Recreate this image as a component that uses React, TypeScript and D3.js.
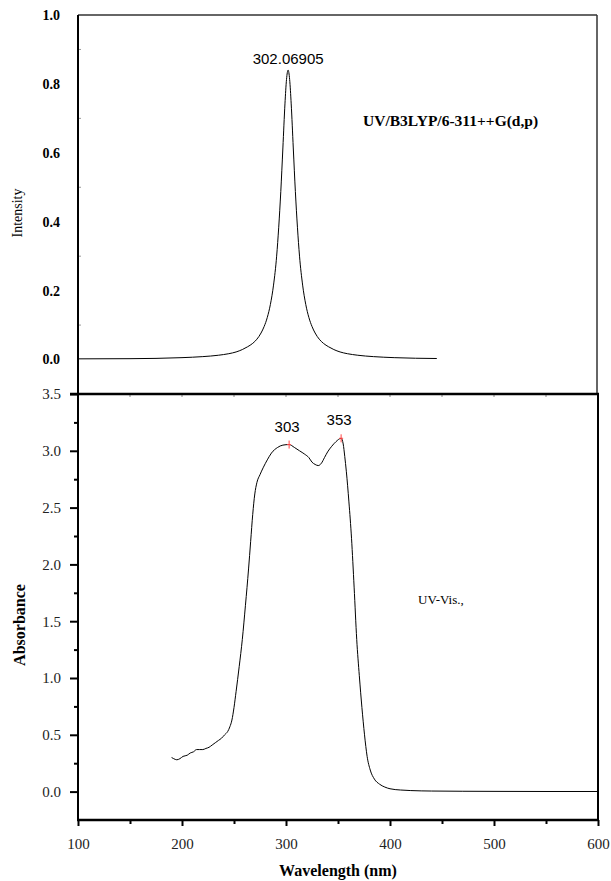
import React, { useEffect, useRef } from "react";
import * as d3 from "d3";

// Page size
const W = 611;
const H = 881;

// Panel geometry
const left = 78;
const right = 598;
const upTop = 15;
const split = 394;
const bottom = 820;

// Calculated (B3LYP) spectrum
const calcWave = [100, 150, 200, 220, 235, 245, 252, 258, 263, 268, 272, 276, 279, 282, 285, 288, 291, 293, 295, 297, 299, 300.5, 302, 303.5, 305, 307, 309, 311, 313, 316, 319, 322, 325, 328, 332, 336, 341, 346, 352, 359, 369, 384, 404, 445];
const calcInt = [0.002, 0.0025, 0.0055, 0.0085, 0.0125, 0.017, 0.022, 0.029, 0.037, 0.047, 0.059, 0.077, 0.096, 0.122, 0.16, 0.216, 0.3, 0.384, 0.488, 0.614, 0.742, 0.813, 0.84, 0.813, 0.742, 0.614, 0.488, 0.384, 0.3, 0.216, 0.16, 0.122, 0.096, 0.077, 0.059, 0.047, 0.037, 0.029, 0.022, 0.017, 0.0125, 0.0085, 0.0055, 0.003];

// Experimental UV-Vis spectrum
const expWave = [190, 192, 195, 198, 201, 205, 208, 211, 214, 217, 220, 223, 226, 229, 232, 235, 238, 241, 244, 246, 248, 250, 252, 255, 258, 261, 264, 266, 268, 270, 272, 275, 278, 282, 286, 292, 297, 303, 308, 313, 318, 322, 325, 328, 331, 334, 337, 340, 344, 348, 353, 355, 356.5, 358, 360.5, 363, 365.5, 368, 370.5, 373, 375.5, 378, 381, 385, 390, 395, 400, 410, 420, 440, 470, 500, 550, 600];
const expAbs = [0.3, 0.29, 0.28, 0.29, 0.31, 0.32, 0.34, 0.35, 0.37, 0.37, 0.37, 0.38, 0.39, 0.41, 0.43, 0.45, 0.47, 0.5, 0.53, 0.57, 0.63, 0.74, 0.88, 1.1, 1.34, 1.64, 1.96, 2.2, 2.44, 2.62, 2.72, 2.79, 2.85, 2.92, 2.98, 3.03, 3.05, 3.055, 3.03, 3.0, 2.97, 2.94, 2.9, 2.88, 2.87, 2.89, 2.94, 2.99, 3.04, 3.08, 3.11, 3.06, 2.95, 2.82, 2.55, 2.23, 1.8, 1.34, 1.02, 0.74, 0.5, 0.31, 0.19, 0.11, 0.065, 0.04, 0.025, 0.014, 0.009, 0.005, 0.003, 0.002, 0.001, 0.001];

// Peak markers
const peakWave = [303, 353];
const peakAbs = [3.055, 3.11];

// Ticks
const upTicks = [0, 0.2, 0.4, 0.6, 0.8, 1.0];
const upMinor = [0.1, 0.3, 0.5, 0.7, 0.9];
const lowTicks = [0, 0.5, 1.0, 1.5, 2.0, 2.5, 3.0, 3.5];
const lowMinor = [0.25, 0.75, 1.25, 1.75, 2.25, 2.75, 3.25];
const xTicks = [100, 200, 300, 400, 500, 600];
const xMinor = [150, 250, 350, 450, 550];

const serif = "'Liberation Serif', 'Times New Roman', serif";
const sans = "'Liberation Sans', Arial, sans-serif";

export default function App() {
  const ref = useRef<SVGSVGElement | null>(null);

  useEffect(() => {
    if (!ref.current) return;
    const svg = d3.select(ref.current);
    svg.selectAll("*").remove();

    const x = d3.scaleLinear().domain([100, 600]).range([left, right]);
    const yUp = d3.scaleLinear().domain([-0.1, 1.0]).range([split, upTop]);
    const yLow = d3.scaleLinear().domain([-0.25, 3.5]).range([bottom, split]);

    // ---- upper panel ----
    // frame
    svg.append("line").attr("x1", left).attr("x2", 597).attr("y1", upTop).attr("y2", upTop)
      .attr("stroke", "#333").attr("stroke-width", 1.5);
    svg.append("line").attr("x1", 597).attr("x2", 597).attr("y1", upTop).attr("y2", split)
      .attr("stroke", "#333").attr("stroke-width", 1.5);

    // inner minor ticks
    svg.append("g").selectAll("line").data(upMinor).join("line")
      .attr("x1", left).attr("x2", left + 3)
      .attr("y1", (d) => yUp(d)).attr("y2", (d) => yUp(d))
      .attr("stroke", "#999").attr("stroke-width", 1);

    svg.append("g").selectAll("text").data(upTicks).join("text")
      .attr("x", 60).attr("y", (d) => yUp(d)).attr("dy", "0.35em")
      .attr("text-anchor", "end")
      .style("font-family", serif).style("font-weight", "bold").style("font-size", "14px")
      .text((d) => d3.format(".1f")(d));

    svg.append("text")
      .attr("transform", `translate(22, 213) rotate(-90)`)
      .attr("text-anchor", "middle")
      .style("font-family", serif).style("font-size", "14px")
      .text("Intensity");

    const calcData = calcWave.map((w, i) => [w, calcInt[i]] as [number, number]);
    const upLine = d3.line<[number, number]>()
      .x((d) => x(d[0])).y((d) => yUp(d[1]))
      .curve(d3.curveMonotoneX);
    svg.append("path").attr("d", upLine(calcData))
      .attr("fill", "none").attr("stroke", "#000").attr("stroke-width", 1);

    svg.append("text")
      .attr("x", x(302.07)).attr("y", yUp(0.84) - 6)
      .attr("text-anchor", "middle")
      .style("font-family", sans).style("font-size", "15px")
      .text("302.06905");

    svg.append("text")
      .attr("x", 363).attr("y", 126)
      .style("font-family", serif).style("font-weight", "bold").style("font-size", "15.5px")
      .text("UV/B3LYP/6-311++G(d,p)");

    // ---- lower panel ----
    const ax = svg.append("g")
      .style("font-family", serif).style("font-size", "15px");

    // left axis
    ax.append("g").attr("transform", `translate(${left},0)`)
      .call(d3.axisLeft(yLow).tickValues(lowTicks).tickSize(8).tickPadding(9).tickFormat(d3.format(".1f")))
      .call((g) => g.select(".domain").remove())
      .call((g) => g.selectAll("line").attr("stroke-width", 2))
      .call((g) => g.selectAll("text").attr("fill", "#222").style("font-family", serif).style("font-size", "15px"));
    ax.append("g").attr("transform", `translate(${left},0)`)
      .call(d3.axisLeft(yLow).tickValues(lowMinor).tickSize(4).tickFormat(() => ""))
      .call((g) => g.select(".domain").remove())
      .call((g) => g.selectAll("line").attr("stroke-width", 2));

    // bottom axis
    ax.append("g").attr("transform", `translate(0,${bottom})`)
      .call(d3.axisBottom(x).tickValues(xTicks).tickSize(6).tickPadding(12))
      .call((g) => g.select(".domain").remove())
      .call((g) => g.selectAll("line").attr("stroke-width", 2))
      .call((g) => g.selectAll("text").attr("fill", "#222").style("font-family", serif).style("font-size", "15px"));
    ax.append("g").attr("transform", `translate(0,${bottom})`)
      .call(d3.axisBottom(x).tickValues(xMinor).tickSize(4).tickFormat(() => ""))
      .call((g) => g.select(".domain").remove())
      .call((g) => g.selectAll("line").attr("stroke-width", 2));

    // top inward ticks
    svg.append("g").selectAll("line").data([...xTicks, ...xMinor]).join("line")
      .attr("x1", (d) => x(d)).attr("x2", (d) => x(d))
      .attr("y1", split).attr("y2", split + 3)
      .attr("stroke", "#888").attr("stroke-width", 1);

    // frame lines
    svg.append("line").attr("x1", left).attr("x2", left).attr("y1", upTop).attr("y2", bottom)
      .attr("stroke", "#000").attr("stroke-width", 2);
    svg.append("line").attr("x1", left - 8).attr("x2", right + 1).attr("y1", split).attr("y2", split)
      .attr("stroke", "#000").attr("stroke-width", 2.5);
    svg.append("line").attr("x1", left - 1).attr("x2", right + 1).attr("y1", bottom).attr("y2", bottom)
      .attr("stroke", "#000").attr("stroke-width", 2.5);
    svg.append("line").attr("x1", right).attr("x2", right).attr("y1", split).attr("y2", bottom)
      .attr("stroke", "#000").attr("stroke-width", 2);

    const expData = expWave.map((w, i) => [w, expAbs[i]] as [number, number]);
    const lowLine = d3.line<[number, number]>()
      .x((d) => x(d[0])).y((d) => yLow(d[1]))
      .curve(d3.curveMonotoneX);
    svg.append("path").attr("d", lowLine(expData))
      .attr("fill", "none").attr("stroke", "#000").attr("stroke-width", 1);

    // peak markers
    const pk = svg.append("g");
    peakWave.forEach((w, i) => {
      const px = x(w);
      const py = yLow(peakAbs[i]);
      pk.append("line").attr("x1", px).attr("x2", px).attr("y1", py - 4).attr("y2", py + 4)
        .attr("stroke", "#f44").attr("stroke-width", 1);
      pk.append("line").attr("x1", px - 2).attr("x2", px + 2).attr("y1", py).attr("y2", py)
        .attr("stroke", "#f44").attr("stroke-width", 1);
      pk.append("text").attr("x", px - 2).attr("y", py - 13)
        .attr("text-anchor", "middle")
        .style("font-family", sans).style("font-size", "15px")
        .text(String(w));
    });

    svg.append("text")
      .attr("x", x(427)).attr("y", yLow(1.65))
      .style("font-family", serif).style("font-size", "13px")
      .text("UV-Vis.,");

    svg.append("text")
      .attr("transform", `translate(25, 625) rotate(-90)`)
      .attr("text-anchor", "middle")
      .style("font-family", serif).style("font-weight", "bold").style("font-size", "16px")
      .text("Absorbance");

    svg.append("text")
      .attr("x", (left + right) / 2).attr("y", 876)
      .attr("text-anchor", "middle")
      .style("font-family", serif).style("font-weight", "bold").style("font-size", "16px")
      .text("Wavelength (nm)");
  }, []);

  return (
    <svg
      ref={ref}
      width={W}
      height={H}
      style={{ position: "absolute", left: 0, top: 0, background: "#fff" }}
    />
  );
}
